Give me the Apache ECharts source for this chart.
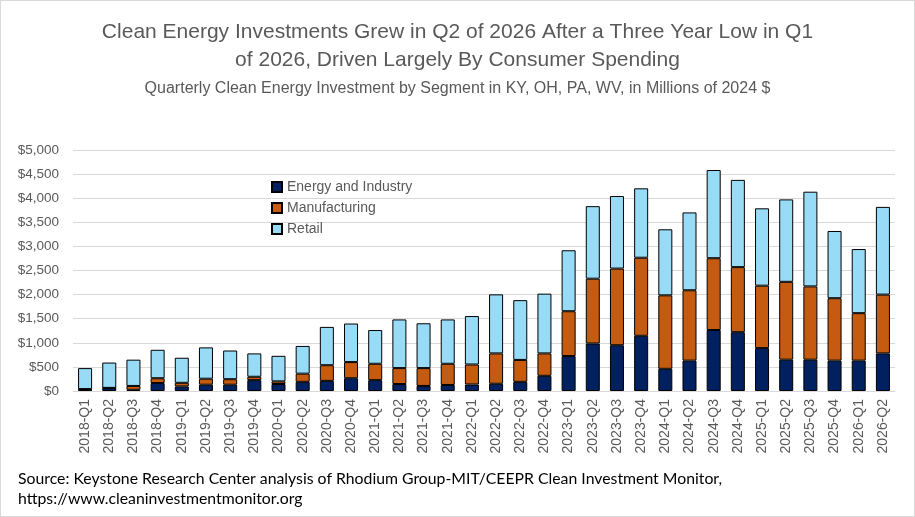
<!DOCTYPE html>
<html>
<head>
<meta charset="utf-8">
<script src="https://cdn.jsdelivr.net/npm/echarts@6/dist/echarts.min.js"></script>
<style>
  html, body { margin: 0; padding: 0; background: #fff; }
  #chart { width: 915px; height: 517px; box-sizing: border-box; border: 1px solid #d9d9d9; }
</style>
</head>
<body>
<div id="chart"></div>
<script>
/* Quarterly clean energy investment, KY/OH/PA/WV */
const quarters = [
  '2018-Q1','2018-Q2','2018-Q3','2018-Q4','2019-Q1','2019-Q2','2019-Q3','2019-Q4',
  '2020-Q1','2020-Q2','2020-Q3','2020-Q4','2021-Q1','2021-Q2','2021-Q3','2021-Q4',
  '2022-Q1','2022-Q2','2022-Q3','2022-Q4','2023-Q1','2023-Q2','2023-Q3','2023-Q4',
  '2024-Q1','2024-Q2','2024-Q3','2024-Q4','2025-Q1','2025-Q2','2025-Q3','2025-Q4',
  '2026-Q1','2026-Q2'
];
const energy = [
  30, 60, 25, 165, 95, 130, 130, 225,
  145, 190, 210, 265, 225, 145, 105, 125,
  135, 150, 190, 315, 725, 985, 950, 1145,
  460, 630, 1265, 1220, 890, 650, 650, 630,
  630, 780
];
const manufacturing = [
  10, 5, 80, 100, 75, 125, 115, 70,
  55, 170, 325, 335, 340, 330, 370, 440,
  415, 630, 455, 465, 930, 1345, 1590, 1620,
  1525, 1460, 1490, 1350, 1295, 1615, 1520, 1295,
  985, 1220
];
const retail = [
  435, 525, 545, 590, 520, 650, 595, 485,
  530, 575, 795, 800, 700, 1010, 930, 920,
  1005, 1225, 1240, 1240, 1265, 1505, 1505, 1440,
  1370, 1615, 1830, 1810, 1605, 1710, 1965, 1395,
  1330, 1820
];
const yTicks = [0, 5000, 500];   // min, max, interval

const GREY = '#595959';
const chart = echarts.init(document.getElementById('chart'), null, { renderer: 'canvas' });

const bar = (name, data, color) => ({
  name, type: 'bar', stack: 'total', data, barWidth: '58%',
  itemStyle: { color, borderColor: '#000', borderWidth: 1 },
  emphasis: { disabled: true },
});

chart.setOption({
  animation: false,
  title: [
    {
      text: 'Clean Energy Investments Grew in Q2 of 2026 After a Three Year Low in Q1\nof 2026, Driven Largely By Consumer Spending',
      left: 'center', top: 12,
      textStyle: { fontFamily: 'Liberation Sans Narrow, Arial Narrow, sans-serif', fontWeight: 'normal',
        fontSize: 21, color: GREY, lineHeight: 28 },
    },
    {
      text: 'Quarterly Clean Energy Investment by Segment in KY, OH, PA, WV, in Millions of 2024 $',
      left: 'center', top: 75,
      textStyle: { fontFamily: 'Liberation Sans Narrow, Arial Narrow, sans-serif', fontWeight: 'normal',
        fontSize: 16, color: GREY },
    },
    {
      text: 'Source: Keystone Research Center analysis of Rhodium Group-MIT/CEEPR Clean Investment Monitor,\nhttps://www.cleaninvestmentmonitor.org',
      left: 12, top: 463,
      textStyle: { fontFamily: 'Lato, sans-serif', fontWeight: 'normal', fontSize: 15.8, color: '#000', lineHeight: 20 },
    },
  ],
  legend: {
    orient: 'vertical', left: 265, top: 174, itemGap: 7,
    itemWidth: 10, itemHeight: 10, icon: 'rect',
    textStyle: { fontFamily: 'Liberation Sans, Arial, sans-serif', fontSize: 14, color: GREY },
    data: ['Energy and Industry', 'Manufacturing', 'Retail'],
  },
  grid: { left: 72, right: 19, top: 149, bottom: 125, containLabel: false },
  xAxis: {
    type: 'category', data: quarters,
    axisLine: { lineStyle: { color: '#d9d9d9', width: 1 } },
    axisTick: { show: false },
    axisLabel: { rotate: 90, interval: 0, margin: 8, color: GREY, fontSize: 14,
      fontFamily: 'Liberation Sans, Arial, sans-serif' },
  },
  yAxis: {
    type: 'value', min: yTicks[0], max: yTicks[1], interval: yTicks[2],
    axisLine: { show: false }, axisTick: { show: false },
    axisLabel: { color: GREY, fontSize: 13.5, margin: 14,
      fontFamily: 'Liberation Sans, Arial, sans-serif',
      formatter: (v) => '$' + v.toLocaleString('en-US') },
    splitLine: { lineStyle: { color: '#d9d9d9', width: 1 } },
  },
  series: [
    bar('Energy and Industry', energy, '#002060'),
    bar('Manufacturing', manufacturing, '#C55A11'),
    bar('Retail', retail, '#97DBF7'),
  ],
});
</script>
</body>
</html>
